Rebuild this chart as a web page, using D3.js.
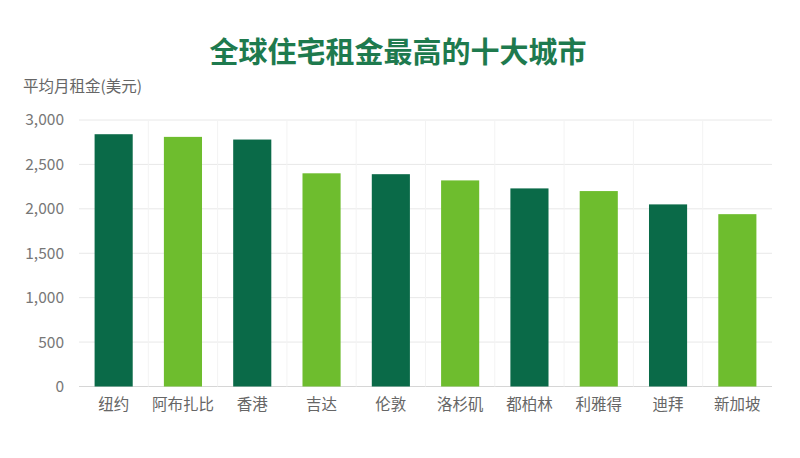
<!DOCTYPE html>
<html><head><meta charset="utf-8">
<script src="https://cdn.jsdelivr.net/npm/d3@7"></script>
<style>body{margin:0;background:#fff;}svg{display:block;}</style>
</head><body>
<svg id="chart" width="800" height="458"></svg>
<script>
const categories = ["纽约","阿布扎比","香港","吉达","伦敦","洛杉矶","都柏林","利雅得","迪拜","新加坡"];
const values = [2840, 2810, 2780, 2400, 2390, 2320, 2230, 2200, 2050, 1940];
const barColors = ["#0a6a48","#6ebd2e"];
const yTicks = [0, 500, 1000, 1500, 2000, 2500, 3000];
const title = "全球住宅租金最高的十大城市";
const yLabel = "平均月租金(美元)";

const svg = d3.select("#chart");
const m = {left:79, right:28, top:120, bottom:72};
const W = 800, H = 458;
const x = d3.scaleBand().domain(categories).range([m.left, W - m.right]).paddingInner(0.45).paddingOuter(0.225);
const xb = d3.scaleBand().domain(categories).range([m.left, W - m.right]);
const y = d3.scaleLinear().domain([0, 3000]).range([386.5, 120]);
const font = "'Noto Sans CJK SC','Noto Sans',sans-serif";

// horizontal grid
svg.append("g").selectAll("line").data(yTicks).join("line")
  .attr("x1", m.left).attr("x2", W - m.right)
  .attr("y1", d => y(d)).attr("y2", d => y(d))
  .attr("stroke", d => d === 0 ? "#d6d6d6" : "#e8e8e8").attr("stroke-width", 1);
// faint vertical grid
svg.append("g").selectAll("line").data(categories.slice(1)).join("line")
  .attr("x1", d => xb(d)).attr("x2", d => xb(d))
  .attr("y1", y(3000)).attr("y2", y(0))
  .attr("stroke", "#f3f3f3").attr("stroke-width", 1);

// bars
svg.append("g").selectAll("rect").data(values).join("rect")
  .attr("x", (d,i) => x(categories[i])).attr("width", x.bandwidth())
  .attr("y", d => y(d)).attr("height", d => y(0) - y(d))
  .attr("fill", (d,i) => barColors[i % 2]);

// y axis labels
const yAxis = d3.axisLeft(y).tickValues(yTicks).tickFormat(d3.format(",")).tickSize(0).tickPadding(0);
const ga = svg.append("g").attr("transform", "translate(64,0)").call(yAxis);
ga.select(".domain").remove();
ga.selectAll("text").attr("font-family", font).attr("font-size", 15.5).attr("fill", "#777");

// x axis labels
const xAxis = d3.axisBottom(xb).tickSize(0).tickPadding(0);
const gx = svg.append("g").attr("transform", "translate(0,399)").call(xAxis);
gx.select(".domain").remove();
gx.selectAll("text").attr("font-family", font).attr("font-size", 15.5).attr("fill", "#666").attr("dy", "0.71em");

// title
svg.append("text").attr("x", 398).attr("y", 63).attr("text-anchor", "middle")
  .attr("font-family", font).attr("font-size", 29).attr("font-weight", 600)
  .attr("fill", "#1e7a4e").text(title);
// y label
svg.append("text").attr("x", 23).attr("y", 92)
  .attr("font-family", font).attr("font-size", 15.5).attr("fill", "#666").text(yLabel);
</script>
</body></html>
